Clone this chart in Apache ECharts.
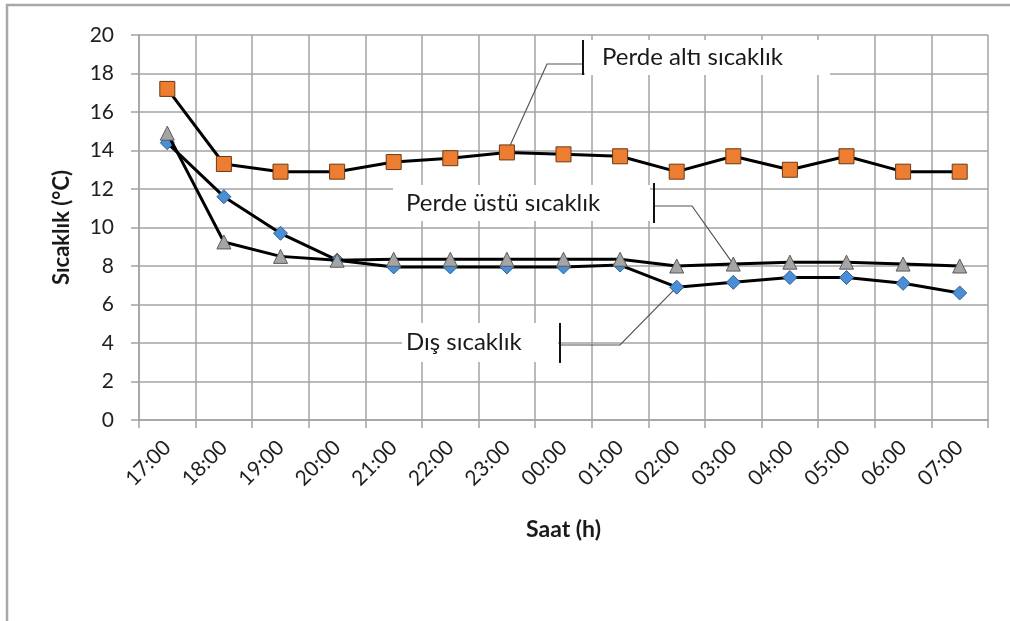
<!DOCTYPE html>
<html>
<head>
<meta charset="utf-8">
<script src="https://cdn.jsdelivr.net/npm/echarts@6/dist/echarts.min.js"></script>
<style>
  html, body { margin: 0; padding: 0; background: #fff; }
  #chart { width: 1010px; height: 621px; }
</style>
</head>
<body>
<div id="chart"></div>
<script>
var hours = ['17:00', '18:00', '19:00', '20:00', '21:00', '22:00', '23:00', '00:00',
  '01:00', '02:00', '03:00', '04:00', '05:00', '06:00', '07:00'];
var yTicks = [0, 2, 4, 6, 8, 10, 12, 14, 16, 18, 20];

// series values
var disSicaklik = [14.4, 11.6, 9.7, 8.3, 7.95, 7.95, 7.95, 7.95, 8.05, 6.9, 7.15, 7.4, 7.4, 7.1, 6.6];
var perdeUstu = [14.9, 9.25, 8.5, 8.3, 8.35, 8.35, 8.35, 8.35, 8.35, 8.0, 8.1, 8.2, 8.2, 8.1, 8.0];
var perdeAlti = [17.2, 13.3, 12.9, 12.9, 13.4, 13.6, 13.9, 13.8, 13.7, 12.9, 13.7, 13.0, 13.7, 12.9, 12.9];

var font = 'Lato, "Open Sans", sans-serif';
var gridColor = '#a3a3a3';

var chart = echarts.init(document.getElementById('chart'));

var option = {
  animation: false,
  textStyle: { fontFamily: font },
  grid: { left: 139, right: 22, top: 35, bottom: 201 },
  xAxis: {
    type: 'category',
    data: hours,
    boundaryGap: true,
    name: 'Saat (h)',
    nameLocation: 'middle',
    nameGap: 98,
    nameTextStyle: { fontFamily: font, fontSize: 23, fontWeight: 'bold', color: '#1a1a1a' },
    axisLine: { lineStyle: { color: gridColor, width: 1.5 } },
    axisTick: { show: true, interval: 0, length: 8, lineStyle: { color: gridColor, width: 1.5 } },
    axisLabel: { rotate: 45, margin: 24, fontSize: 21, color: '#1f1f1f', fontFamily: font, interval: 0 },
    splitLine: { show: true, interval: 0, lineStyle: { color: gridColor, width: 1.5 } }
  },
  yAxis: {
    type: 'value',
    min: yTicks[0],
    max: yTicks[yTicks.length - 1],
    interval: 2,
    name: 'Sıcaklık (°C)',
    nameLocation: 'middle',
    nameGap: 66,
    nameTextStyle: { fontFamily: font, fontSize: 22, fontWeight: 'bold', color: '#1a1a1a' },
    axisLine: { show: true, lineStyle: { color: gridColor, width: 1.5 } },
    axisTick: { show: true, length: 8, lineStyle: { color: gridColor, width: 1.5 } },
    axisLabel: { margin: 25, fontSize: 21, color: '#1f1f1f', fontFamily: font },
    splitLine: { show: true, lineStyle: { color: gridColor, width: 1.5 } }
  },
  series: [
    {
      name: 'Dış sıcaklık',
      type: 'line',
      data: disSicaklik,
      z: 3,
      symbol: 'diamond',
      symbolSize: 14,
      showAllSymbol: true,
      lineStyle: { color: '#000', width: 3 },
      itemStyle: { color: '#4a8ed6', borderColor: '#2f5f93', borderWidth: 1 }
    },
    {
      name: 'Perde üstü sıcaklık',
      type: 'line',
      data: perdeUstu,
      z: 4,
      symbol: 'triangle',
      symbolSize: 14,
      showAllSymbol: true,
      lineStyle: { color: '#000', width: 3 },
      itemStyle: { color: '#a5a5a5', borderColor: '#5a5a5a', borderWidth: 1 }
    },
    {
      name: 'Perde altı sıcaklık',
      type: 'line',
      data: perdeAlti,
      z: 5,
      symbol: 'rect',
      symbolSize: 15,
      showAllSymbol: true,
      lineStyle: { color: '#000', width: 3 },
      itemStyle: { color: '#ed7d31', borderColor: '#6b3a14', borderWidth: 1 }
    }
  ]
};
chart.setOption(option);

// data labels with leader lines, anchored on a data point
var notes = [
  { series: 2, index: 6, text: 'Perde altı sıcaklık', box: [585, 40, 245, 35], textX: 602, elbow: [547, 64], barX: 583, bar: [40, 75] },
  { series: 1, index: 10, text: 'Perde üstü sıcaklık', box: [393, 185, 257, 36], textX: 406, elbow: [692, 206], barX: 654, bar: [183, 223] },
  { series: 0, index: 9, text: 'Dış sıcaklık', box: [402, 323, 156, 39], textX: 406, elbow: [620, 345], barX: 560, bar: [323, 363] }
];
var seriesData = [disSicaklik, perdeUstu, perdeAlti];

var graphics = [
  {
    type: 'rect', z: 0, silent: true,
    shape: { x: 7, y: 5, width: 1100, height: 700 },
    style: { fill: null, stroke: '#a8a8a8', lineWidth: 2.5 }
  }
];
notes.forEach(function (n) {
  var p = chart.convertToPixel({ gridIndex: 0 }, [n.index, seriesData[n.series][n.index]]);
  graphics.push({
    type: 'rect', z: 1, silent: true,
    shape: { x: n.box[0], y: n.box[1], width: n.box[2], height: n.box[3] },
    style: { fill: '#fff' }
  });
  graphics.push({
    type: 'polyline', z: 2, silent: true,
    shape: { points: [p, n.elbow, [n.barX, n.elbow[1]]] },
    style: { stroke: '#555', lineWidth: 1.2, fill: null }
  });
  graphics.push({
    type: 'line', z: 2, silent: true,
    shape: { x1: n.barX, y1: n.bar[0], x2: n.barX, y2: n.bar[1] },
    style: { stroke: '#111', lineWidth: 2 }
  });
  graphics.push({
    type: 'text', z: 2, silent: true,
    x: n.textX, y: n.box[1] + n.box[3] / 2,
    style: { text: n.text, font: '24px ' + font, fill: '#1a1a1a', verticalAlign: 'middle' }
  });
});
chart.setOption({ graphic: graphics });
</script>
</body>
</html>
